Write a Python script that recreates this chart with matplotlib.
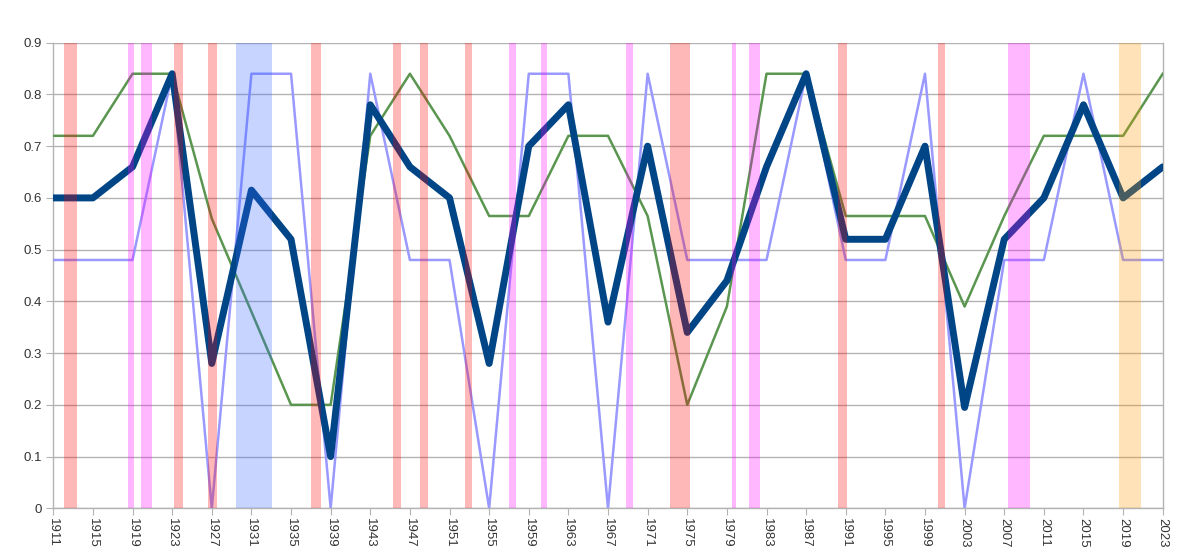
import matplotlib
matplotlib.use("Agg")
import matplotlib.pyplot as plt
import numpy as np

plt.rcParams['font.family'] = ['Liberation Sans', 'DejaVu Sans']

years = list(range(1911, 2024, 4))

# thick dark line
main = [0.60, 0.60, 0.66, 0.84, 0.28, 0.615, 0.52, 0.10, 0.78, 0.66,
        0.60, 0.28, 0.70, 0.78, 0.36, 0.70, 0.34, 0.44, 0.66, 0.84,
        0.52, 0.52, 0.70, 0.195, 0.52, 0.60, 0.78, 0.60, 0.66]

# thin green line
green = [0.72, 0.72, 0.84, 0.84, 0.56, 0.38, 0.20, 0.20, 0.72, 0.84,
         0.72, 0.565, 0.565, 0.72, 0.72, 0.565, 0.20, 0.39, 0.84, 0.84,
         0.565, 0.565, 0.565, 0.39, 0.565, 0.72, 0.72, 0.72, 0.84]

# thin lavender line
lavender = [0.48, 0.48, 0.48, 0.84, 0.0, 0.84, 0.84, 0.0, 0.84, 0.48,
            0.48, 0.0, 0.84, 0.84, 0.0, 0.84, 0.48, 0.48, 0.48, 0.84,
            0.48, 0.48, 0.84, 0.0, 0.48, 0.48, 0.84, 0.48, 0.48]

# shaded periods (start, end, kind)
bands = [
    (1912.1, 1913.4, "red"), (1918.5, 1919.1, "pink"), (1919.9, 1921.0, "pink"),
    (1923.2, 1924.1, "red"), (1926.6, 1927.5, "red"), (1929.4, 1933.05, "blue"),
    (1937.0, 1938.0, "red"), (1945.3, 1946.1, "red"), (1948.0, 1948.8, "red"),
    (1952.6, 1953.3, "red"), (1957.0, 1957.7, "pink"), (1960.2, 1960.8, "pink"),
    (1968.8, 1969.5, "pink"), (1973.3, 1975.25, "red"), (1979.5, 1979.9, "pink"),
    (1981.2, 1982.35, "pink"), (1990.25, 1991.1, "red"), (2000.35, 2001.0, "red"),
    (2007.35, 2009.6, "pink"), (2018.6, 2020.8, "orange"),
]
band_colors = {"red": "#ff0000", "pink": "#ff00ff", "blue": "#3366ff", "orange": "#ff9900"}

fig = plt.figure(figsize=(11.95, 5.53), dpi=100)
ax = fig.add_axes([0.0446, 0.0808, 0.9284, 0.842])

ax.plot(years, lavender, color="#9999ff", linewidth=1.8, zorder=3)
ax.plot(years, green, color="#5a9650", linewidth=1.8, zorder=3)
ax.plot(years, main, color="#004586", linewidth=5, zorder=4,
        solid_joinstyle="round", solid_capstyle="round")

for start, end, kind in bands:
    ax.axvspan(start, end, color=band_colors[kind], alpha=0.28, linewidth=0, zorder=5)

ax.set_xlim(1911, 2023)
ax.set_ylim(0, 0.9)
ax.set_yticks(np.arange(0, 0.91, 0.1))
ax.set_yticklabels(["0"] + ["%.1f" % v for v in np.arange(0.1, 0.91, 0.1)])
ax.set_xticks(years)
ax.set_xticklabels([str(y) for y in years], rotation=-90)

ax.grid(axis="y", color="#b3b3b3", linewidth=1, zorder=1)
ax.set_axisbelow(True)
for side in ["left", "bottom", "right"]:
    ax.spines[side].set_color("#b3b3b3")
    ax.spines[side].set_linewidth(1)
ax.spines["top"].set_visible(False)
ax.tick_params(axis="both", colors="#b3b3b3", length=5, labelcolor="#333333", labelsize=9.5)
ax.tick_params(axis="y", pad=3)
ax.tick_params(axis="x", pad=2)

fig.savefig("out.png", dpi=100, facecolor="white")
